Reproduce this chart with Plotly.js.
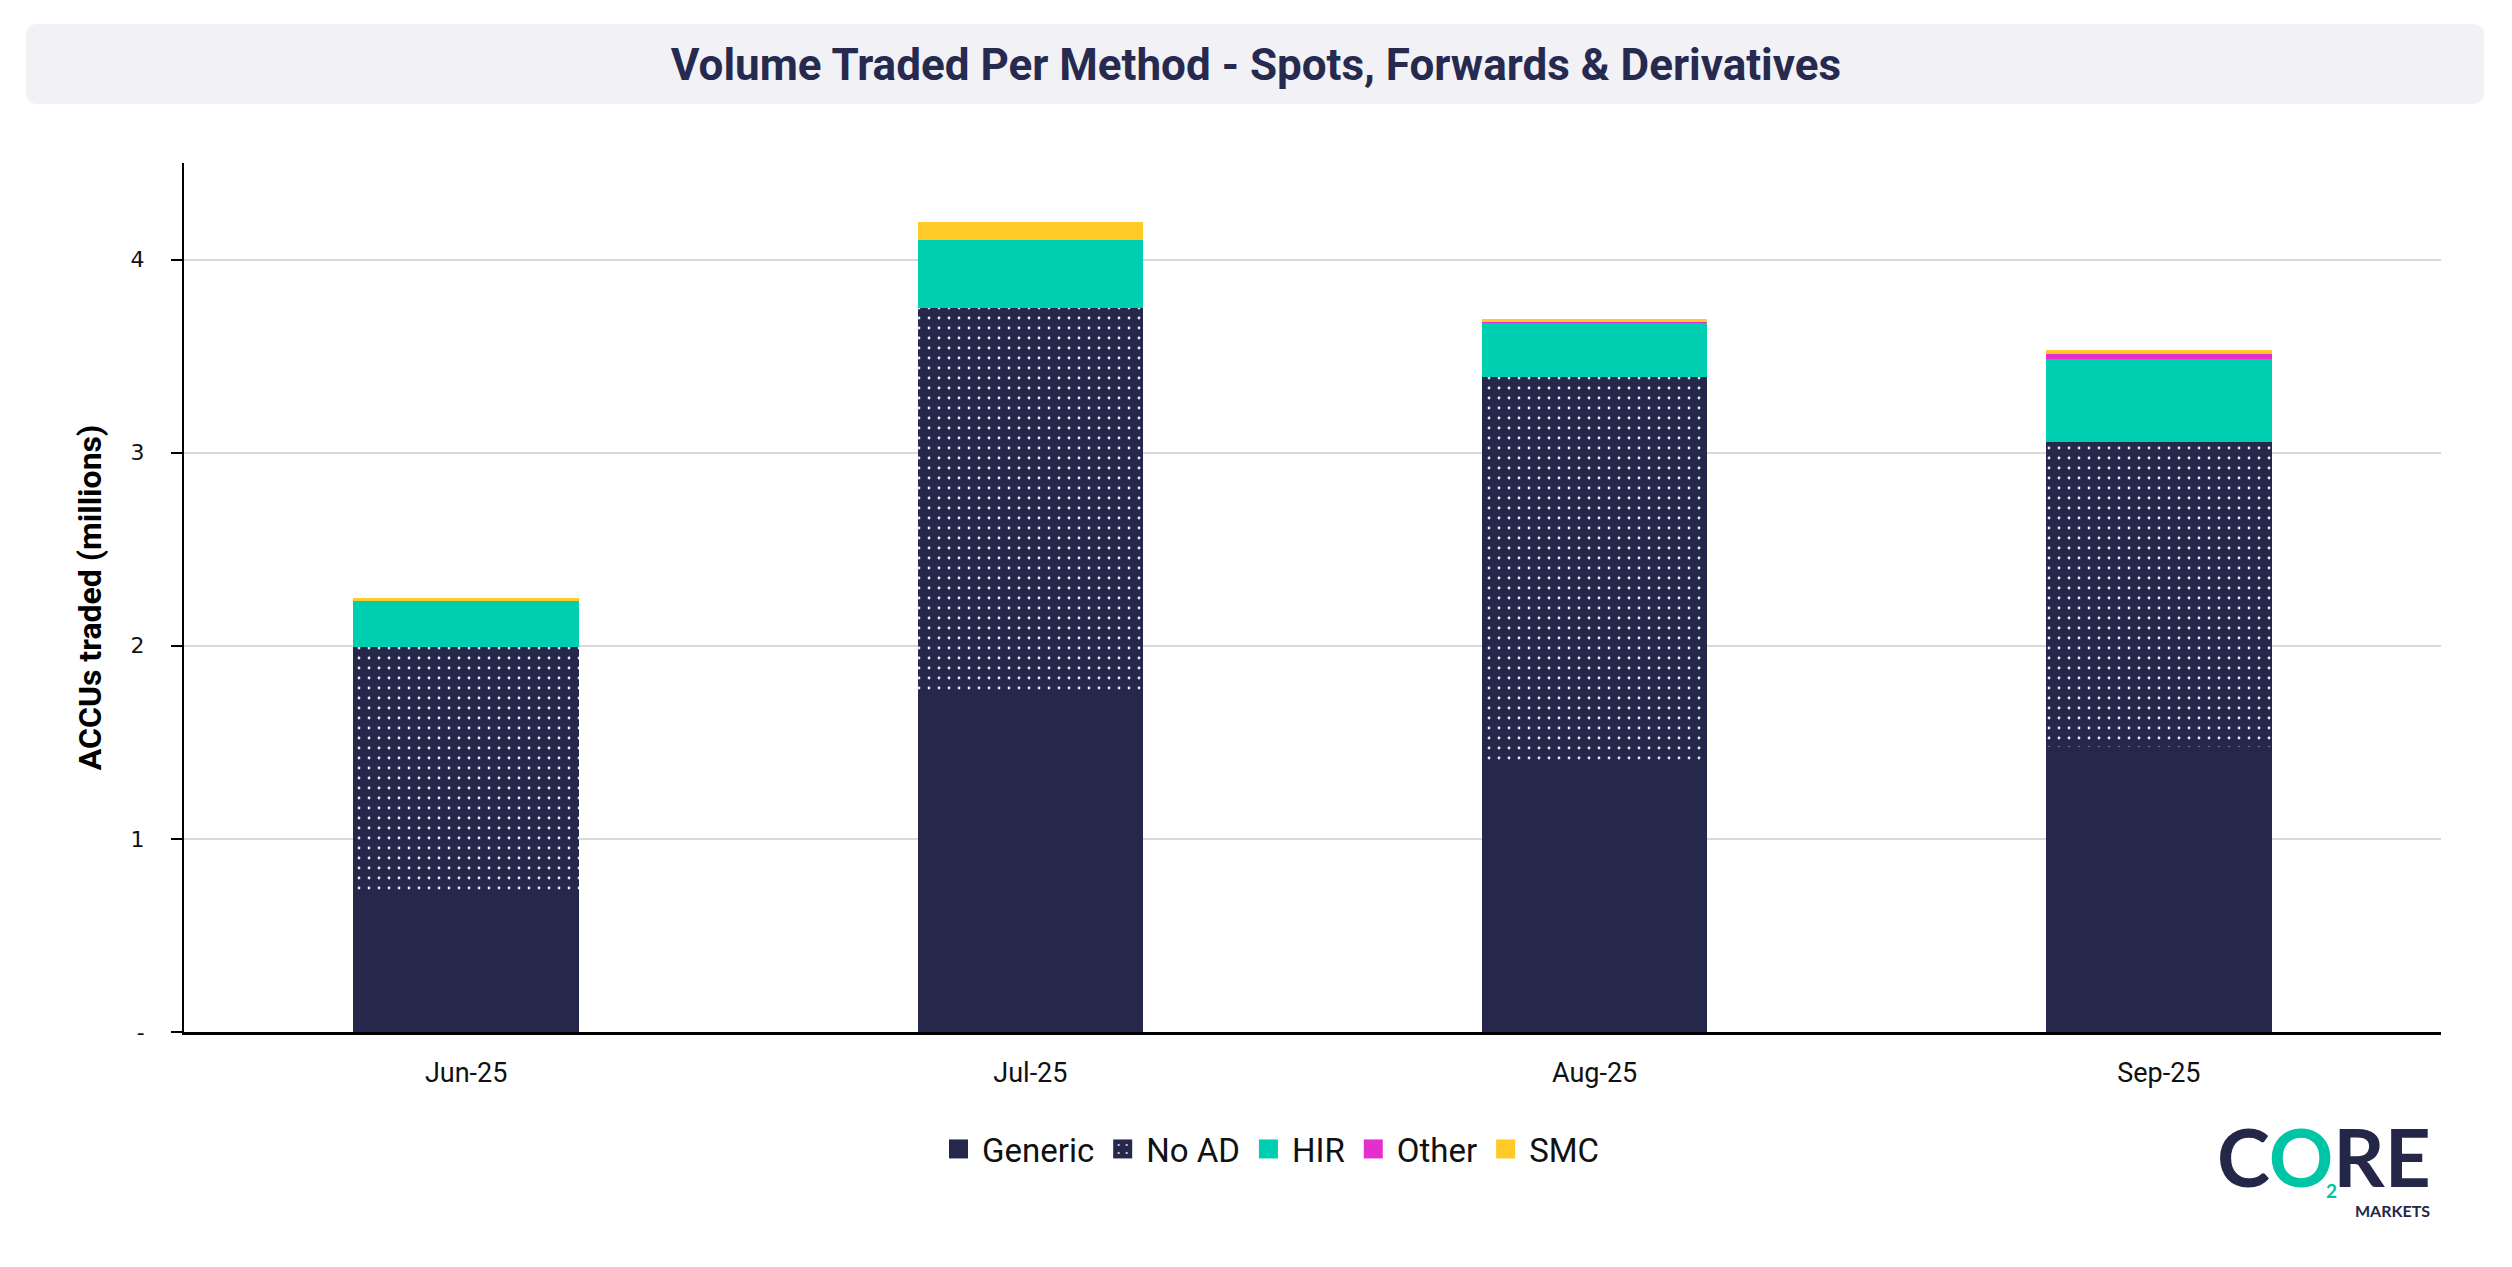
<!DOCTYPE html>
<html>
<head>
<meta charset="utf-8">
<script src="https://cdn.plot.ly/plotly-3.0.1.min.js"></script>
<style>
html,body{margin:0;padding:0;background:#ffffff;}
#chart{width:2512px;height:1267px;}
</style>
</head>
<body>
<div id="chart"></div>
<script>
// ---- data ----
var months = ['Jun-25', 'Jul-25', 'Aug-25', 'Sep-25'];
var generic = [0.715, 1.772, 1.394, 1.477];
var noAD = [1.280, 1.978, 1.996, 1.580];
var hir = [0.238, 0.350, 0.280, 0.430];
var other = [0.000, 0.000, 0.005, 0.026];
var smc = [0.016, 0.097, 0.018, 0.021];
var yTickVals = [0, 1, 2, 3, 4];
var yTickText = ['-', '1', '2', '3', '4'];
var seriesNames = ['Generic', 'No AD', 'HIR', 'Other', 'SMC'];

// ---- geometry helpers (pixel -> paper) ----
var W = 2512, H = 1267;
var mL = 184, mR = 71, mT = 163, mB = 235;
var pw = W - mL - mR, ph = H - mT - mB;
function px(x) { return (x - mL) / pw; }
function py(y) { return (H - mB - y) / ph; }

var navy = '#25284a';
var traces = [
  {name: seriesNames[0], x: months, y: generic, type: 'bar',
   marker: {color: navy, line: {width: 0}}},
  {name: seriesNames[1], x: months, y: noAD, type: 'bar',
   marker: {color: navy, line: {width: 0},
            pattern: {shape: '.', bgcolor: navy, fgcolor: '#ffffff', fgopacity: 0.9, size: 10, solidity: 0.06, fillmode: 'replace'}}},
  {name: seriesNames[2], x: months, y: hir, type: 'bar',
   marker: {color: '#00ceb0', line: {width: 0}}},
  {name: seriesNames[3], x: months, y: other, type: 'bar',
   marker: {color: '#e62ecf', line: {width: 0}}},
  {name: seriesNames[4], x: months, y: smc, type: 'bar',
   marker: {color: '#ffca28', line: {width: 0}}}
];
traces.forEach(function (t) { t.hoverinfo = 'name+y'; });

// rounded title box path in paper coords
function roundedBox(x0p, y0p, x1p, y1p, r) {
  var a = px(x0p), b = px(x1p), top = py(y0p), bot = py(y1p);
  var rx = r / pw, ry = r / ph;
  return 'M' + (a + rx) + ',' + top +
    ' L' + (b - rx) + ',' + top +
    ' Q' + b + ',' + top + ' ' + b + ',' + (top - ry) +
    ' L' + b + ',' + (bot + ry) +
    ' Q' + b + ',' + bot + ' ' + (b - rx) + ',' + bot +
    ' L' + (a + rx) + ',' + bot +
    ' Q' + a + ',' + bot + ' ' + a + ',' + (bot + ry) +
    ' L' + a + ',' + (top - ry) +
    ' Q' + a + ',' + top + ' ' + (a + rx) + ',' + top + ' Z';
}

var layout = {
  width: W, height: H,
  margin: {l: mL, r: mR, t: mT, b: mB, pad: 0},
  paper_bgcolor: '#ffffff',
  plot_bgcolor: '#ffffff',
  barmode: 'stack',
  bargap: 0.6,
  title: {
    text: '<b>Volume Traded Per Method - Spots, Forwards &amp; Derivatives</b>',
    font: {family: 'Roboto, Lato, sans-serif', size: 44, color: '#262a4f'},
    x: 0.5, xref: 'container', xanchor: 'center',
    y: 1 - 65 / H, yref: 'container', yanchor: 'middle'
  },
  xaxis: {
    type: 'category',
    range: [-0.5, 3.5],
    showgrid: false,
    zeroline: false,
    showline: true, linecolor: '#000000', linewidth: 3,
    ticks: '',
    ticklabelstandoff: 15,
    tickfont: {family: 'Roboto, Lato, sans-serif', size: 27, color: '#111111'},
    fixedrange: true
  },
  yaxis: {
    range: [0, 4.5],
    tickvals: yTickVals,
    ticktext: yTickText,
    showgrid: true, gridcolor: '#d9d9d9', gridwidth: 2,
    zeroline: false,
    showline: true, linecolor: '#000000', linewidth: 2,
    ticks: 'outside', ticklen: 11, tickwidth: 2, tickcolor: '#000000',
    ticklabelstandoff: 22,
    tickfont: {family: 'DejaVu Sans, Verdana, sans-serif', size: 22, color: '#111111'},
    title: {
      text: '<b>ACCUs traded (millions)</b>',
      font: {family: 'Roboto, Lato, sans-serif', size: 32, color: '#000000'},
      standoff: 19
    },
    fixedrange: true
  },
  legend: {
    orientation: 'h',
    x: px(1270), xanchor: 'center',
    y: py(1149), yanchor: 'middle',
    itemwidth: 37,
    font: {family: 'Roboto, Lato, sans-serif', size: 33, color: '#111111'},
    traceorder: 'normal',
    bgcolor: 'rgba(0,0,0,0)'
  },
  shapes: [
    {type: 'path', xref: 'paper', yref: 'paper', layer: 'below',
     path: roundedBox(26, 24, 2484, 104, 12),
     fillcolor: '#f2f1f5', line: {width: 0}}
  ],
  annotations: [
    {xref: 'paper', yref: 'paper', x: px(2324), y: py(1156), xanchor: 'center', yanchor: 'middle',
     text: '<b>C<span style="color:#00c4a6">O</span>RE</b>', showarrow: false,
     font: {family: 'Lato, sans-serif', size: 80, color: '#242747', weight: 900}},
    {xref: 'paper', yref: 'paper', x: px(2331), y: py(1190), xanchor: 'center', yanchor: 'middle',
     text: '<b>2</b>', showarrow: false, borderpad: 0,
     font: {family: 'Lato, sans-serif', size: 19, color: '#00c4a6'}},
    {xref: 'paper', yref: 'paper', x: px(2431), y: py(1210), xanchor: 'right', yanchor: 'middle',
     text: '<b>MARKETS</b>', showarrow: false, borderpad: 0,
     font: {family: 'Lato, sans-serif', size: 16, color: '#242747'}}
  ]
};

Plotly.newPlot('chart', traces, layout, {displayModeBar: false, staticPlot: true}).then(function (gd) {
  // enlarge legend swatches to match the reference's square markers
  var pts = gd.querySelectorAll('.legend .legendpoints path');
  pts.forEach(function (p) { p.setAttribute('d', 'M9.5,9.5H-9.5V-9.5H9.5Z'); });
});
</script>
</body>
</html>
